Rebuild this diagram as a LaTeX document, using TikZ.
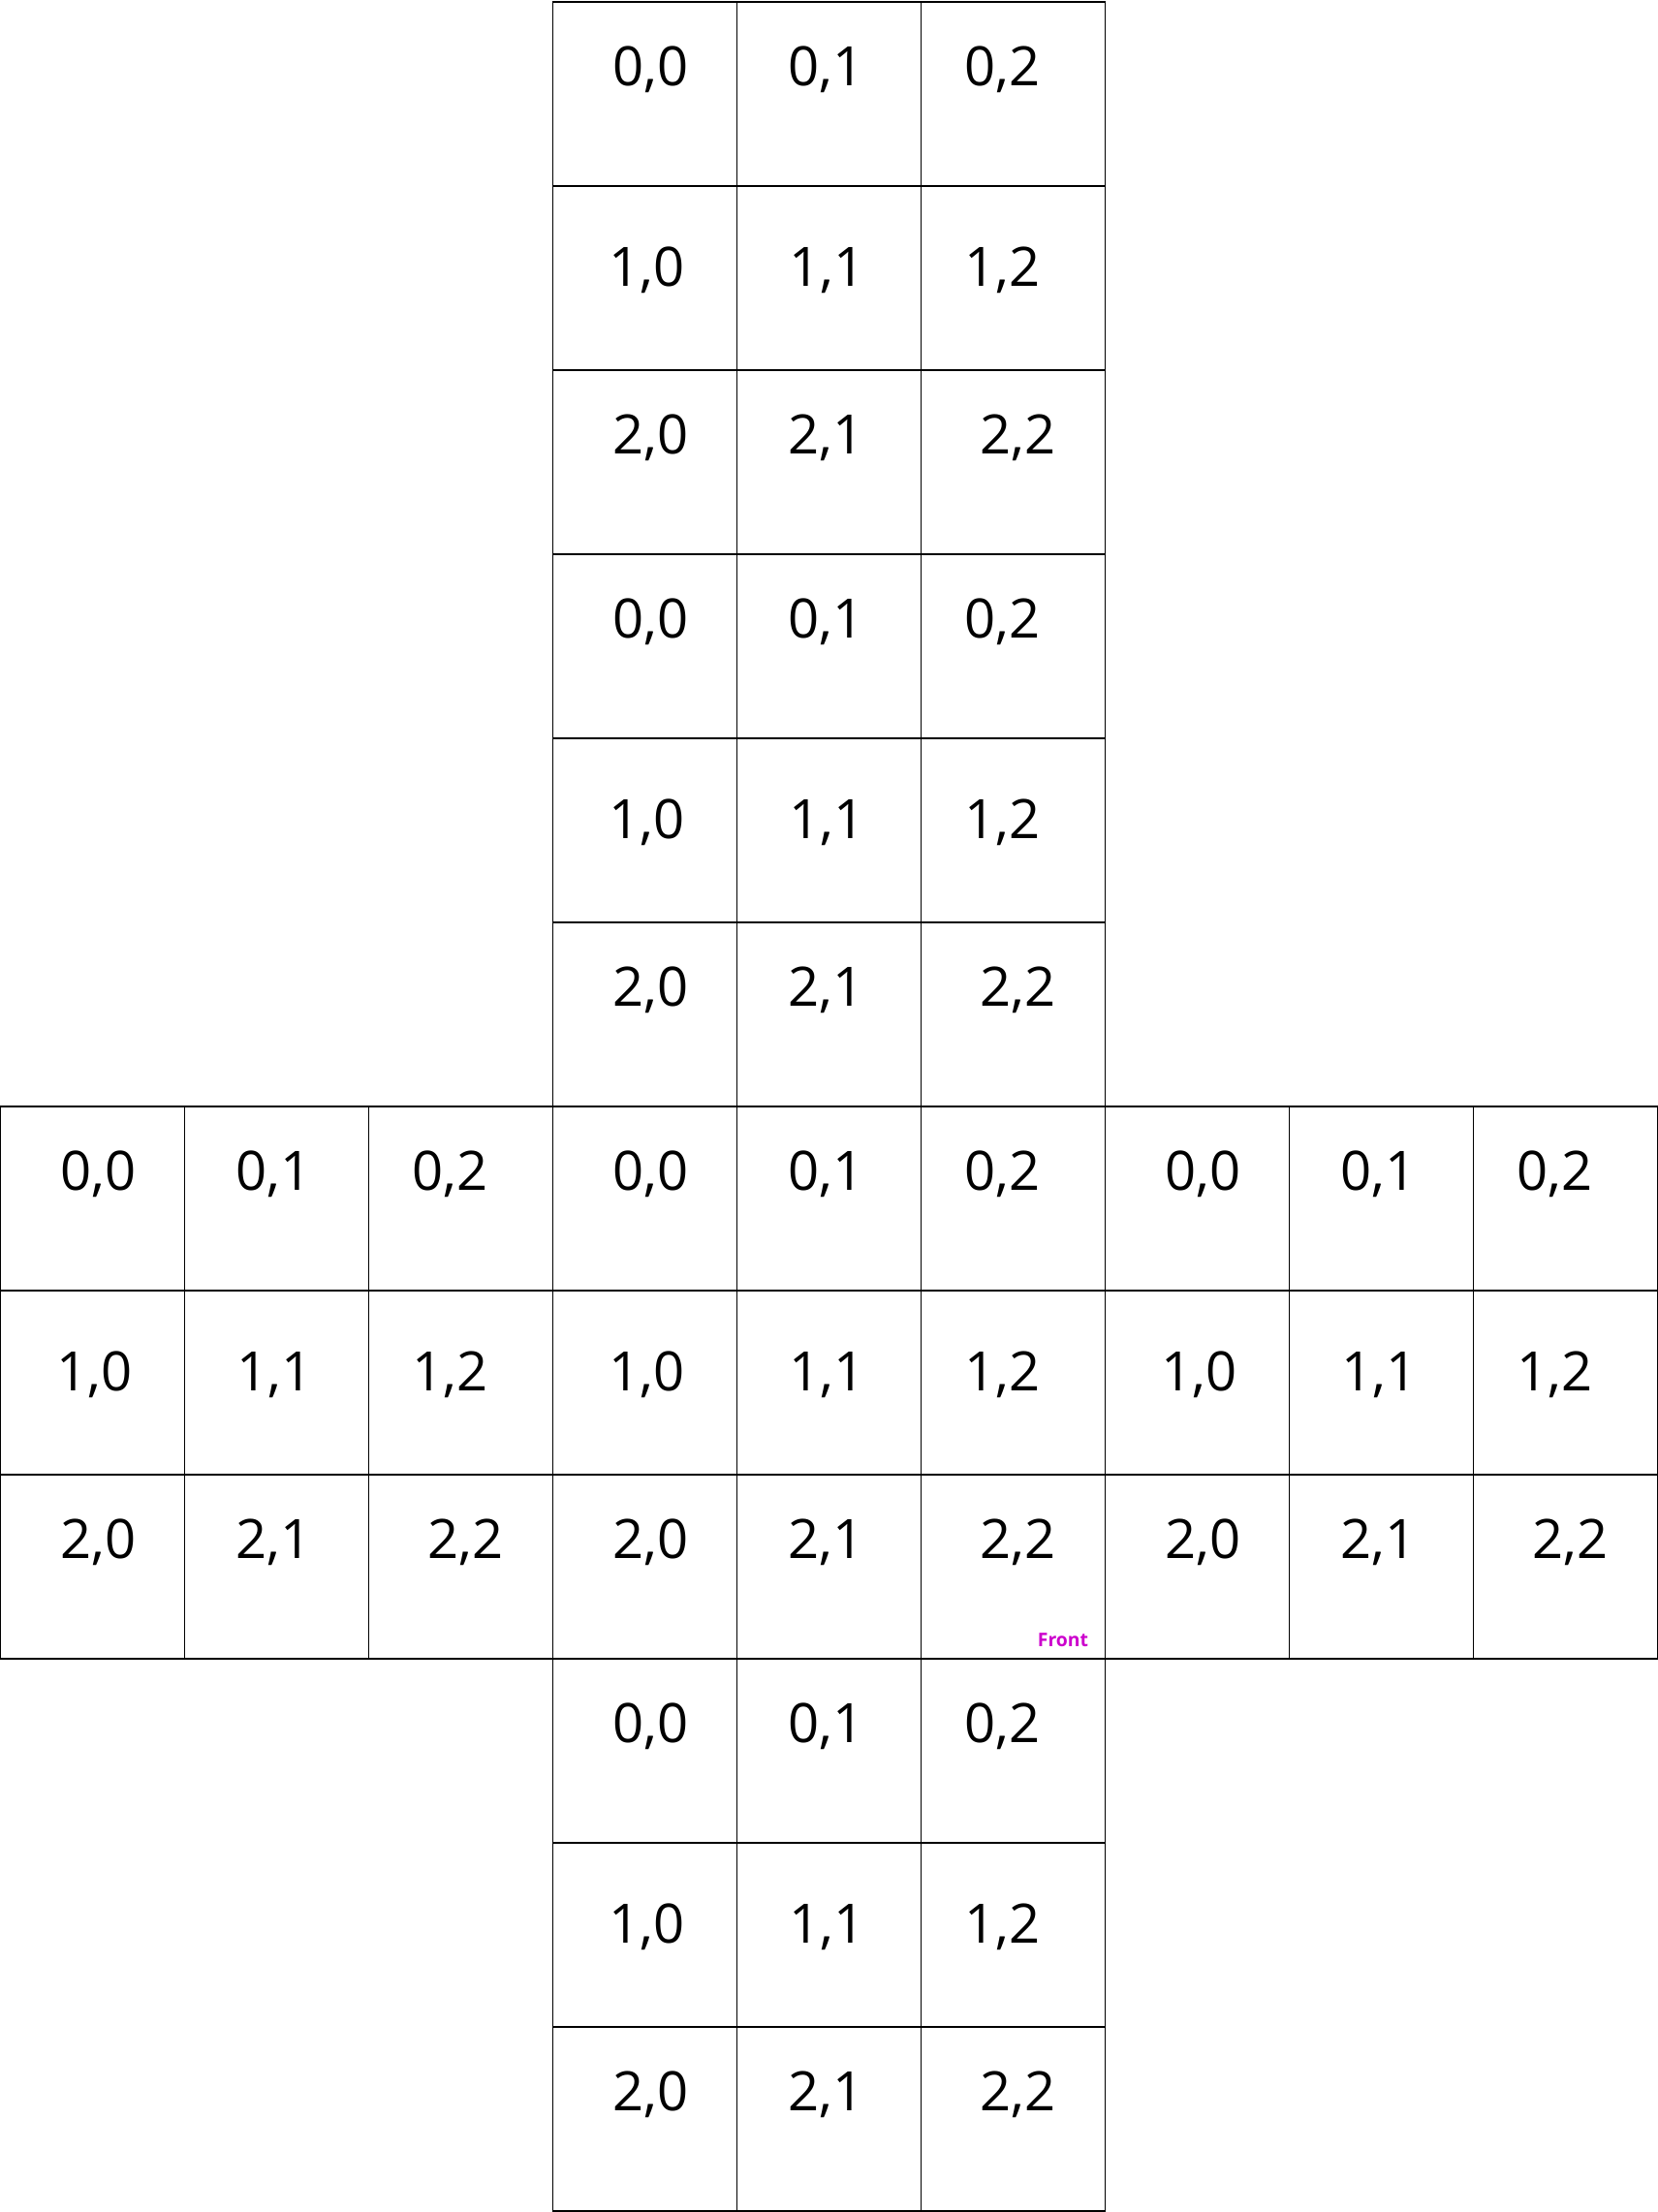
\documentclass[tikz,border=0pt]{standalone}
\usepackage{fontspec}
\setmainfont{Open Sans}
\usepackage{tikz}
\definecolor{frontmag}{HTML}{CC00CC}
\tikzset{
  cellbox/.style={rectangle, draw=black, line width=0.25pt, minimum size=1cm,
                  inner sep=0pt, outer sep=0pt},
  idx/.style={anchor=base, inner sep=0pt, font=\fontsize{8.4}{10}\selectfont},
  tag/.style={anchor=base east, inner sep=0pt, text=frontmag,
              font=\fontsize{2.9}{3.5}\selectfont\bfseries},
}

\begin{document}
\begin{tikzpicture}
  \useasboundingbox (-0.002,-0.004) rectangle (9.003,12.012);
  % six faces of the net: column / row of the top left cell
  \foreach \fc/\fr/\fn in {3/0/back, 3/3/top, 0/6/left, 3/6/front, 6/6/right, 3/9/bottom} {
    \foreach \r/\dy in {0/0.453, 1/0.545, 2/0.453} {
      \foreach \c in {0,1,2} {
        \pgfmathsetmacro\dx{{0.032,-0.016,-0.058,0.010,-0.010,-0.058,0.032,-0.016,0.026}[3*\r+\c]}
        \node[cellbox] (\fn-\r-\c) at (\fc+\c+0.5, 11-\fr-\r+0.5) {};
        \node[idx] (\fn-\r-\c-t) at ([xshift=\dx cm, yshift=-\dy cm]\fn-\r-\c.north) {\r,\c};
      }
    }
  }
  \node[tag] (fronttag) at ([xshift=-0.084cm, yshift=0.068cm]front-2-2.south east) {Front};
\end{tikzpicture}
\end{document}
